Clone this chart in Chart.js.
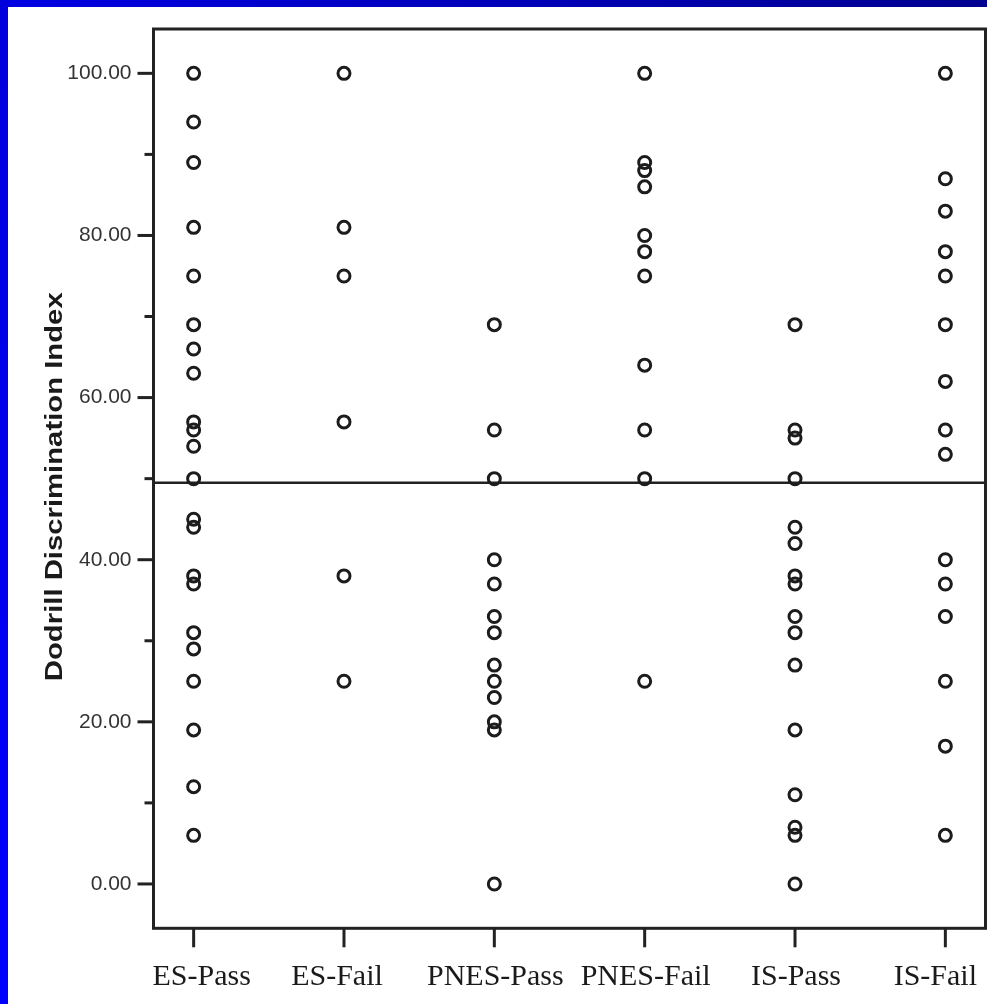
<!DOCTYPE html>
<html>
<head>
<meta charset="utf-8">
<script src="https://cdn.jsdelivr.net/npm/chart.js@4"></script>
<style>
  html, body { margin: 0; padding: 0; background: #fff; overflow: hidden; }
  canvas { display: block; }
</style>
</head>
<body>
<canvas id="chart" width="987" height="1004"></canvas>
<script>
const categories = ['ES-Pass', 'ES-Fail', 'PNES-Pass', 'PNES-Fail', 'IS-Pass', 'IS-Fail'];

const esPass   = [100, 94, 89, 81, 75, 69, 66, 63, 57, 56, 54, 50, 45, 44, 38, 37, 31, 29, 25, 19, 12, 6];
const esFail   = [100, 81, 75, 57, 38, 25];
const pnesPass = [69, 56, 50, 40, 37, 33, 31, 27, 25, 23, 20, 19, 0];
const pnesFail = [100, 89, 88, 86, 80, 78, 75, 64, 56, 50, 25];
const isPass   = [69, 56, 55, 50, 44, 42, 38, 37, 33, 31, 27, 19, 11, 7, 6, 0];
const isFail   = [100, 87, 83, 78, 75, 69, 62, 56, 53, 40, 37, 33, 25, 17, 6];

const cutoff = 49.5;
const yTicks = [0, 10, 20, 30, 40, 50, 60, 70, 80, 90, 100];
const yTitle = 'Dodrill Discrimination Index';

const xMin = -0.267, xMax = 5.267;
const yMin = -5.47, yMax = 105.47;

// the category labels in the original sit a little off their tick marks
const labelNudge = [8, -7, 1, 1, 1, -10];

const groups = [esPass, esFail, pnesPass, pnesFail, isPass, isFail];
const points = groups.flatMap((vals, i) => vals.map(v => ({ x: i, y: v })));

// white page with the blue slide edge on the left and top
const slideBack = {
    id: 'slideBack',
    beforeDraw(chart) {
        const { ctx, width, height } = chart;
        ctx.save();
        ctx.fillStyle = '#fff';
        ctx.fillRect(0, 0, width, height);
        let g = ctx.createLinearGradient(0, 0, width, 0);
        g.addColorStop(0, '#0000e4');
        g.addColorStop(1, '#000090');
        ctx.fillStyle = g;
        ctx.fillRect(0, 0, width, 7);
        g = ctx.createLinearGradient(0, 0, 0, height);
        g.addColorStop(0, '#0000dc');
        g.addColorStop(1, '#0000ff');
        ctx.fillStyle = g;
        ctx.fillRect(0, 0, 8, height);
        ctx.restore();
    }
};

// box, tick marks, category labels and the stretched axis title
const frame = {
    id: 'frame',
    afterDraw(chart) {
        const { ctx, chartArea: a, scales: { x, y } } = chart;
        ctx.save();
        ctx.strokeStyle = '#222';
        ctx.lineWidth = 3;
        ctx.strokeRect(a.left, a.top, a.right - a.left, a.bottom - a.top);

        yTicks.forEach(v => {
            const py = y.getPixelForValue(v);
            const len = v % 20 === 0 ? 16 : 9;
            ctx.beginPath();
            ctx.moveTo(a.left - len, py);
            ctx.lineTo(a.left, py);
            ctx.stroke();
        });

        ctx.font = '30px "Liberation Serif", "Times New Roman", serif';
        ctx.fillStyle = '#1a1a1a';
        ctx.textAlign = 'center';
        ctx.textBaseline = 'alphabetic';
        categories.forEach((c, i) => {
            const px = x.getPixelForValue(i);
            ctx.beginPath();
            ctx.moveTo(px, a.bottom);
            ctx.lineTo(px, a.bottom + 19);
            ctx.stroke();
            ctx.fillText(c, px + labelNudge[i], a.bottom + 57);
        });

        ctx.translate(62, (y.getPixelForValue(50) + y.getPixelForValue(48)) / 2);
        ctx.rotate(-Math.PI / 2);
        ctx.scale(1.22, 1);
        ctx.font = 'bold 24px "Liberation Sans", Arial, sans-serif';
        ctx.fillText(yTitle, 0, 0);
        ctx.restore();
    }
};

// keep the plot box where the original has it, labels may overhang
const noOverhang = s => {
    s.paddingLeft = 0;
    s.paddingRight = 0;
    s.paddingTop = 0;
    s.paddingBottom = 0;
};

new Chart(document.getElementById('chart'), {
    type: 'scatter',
    data: {
        datasets: [
            {
                data: points,
                pointStyle: 'circle',
                pointRadius: 6,
                pointBorderWidth: 3,
                borderColor: '#1c1c1c',
                backgroundColor: 'rgba(0,0,0,0)'
            },
            {
                type: 'line',
                data: [{ x: xMin, y: cutoff }, { x: xMax, y: cutoff }],
                borderColor: '#222',
                borderWidth: 2.5,
                pointRadius: 0
            }
        ]
    },
    options: {
        responsive: false,
        animation: false,
        layout: { autoPadding: false, padding: { top: 29, right: 1.5, left: 0, bottom: 0 } },
        plugins: { legend: { display: false }, tooltip: { enabled: false } },
        scales: {
            x: {
                type: 'linear',
                min: xMin,
                max: xMax,
                afterBuildTicks: s => { s.ticks = categories.map((c, i) => ({ value: i })); },
                afterFit: s => { s.height = 75.7; noOverhang(s); },
                ticks: { display: false },
                grid: { display: false, drawTicks: false },
                border: { display: false }
            },
            y: {
                min: yMin,
                max: yMax,
                afterBuildTicks: s => { s.ticks = yTicks.map(v => ({ value: v })); },
                afterFit: s => { s.width = 153.5; noOverhang(s); },
                ticks: {
                    callback: v => v % 20 === 0 ? v.toFixed(2) : '',
                    font: { family: '"Liberation Sans", Arial, sans-serif', size: 21 },
                    color: '#333',
                    padding: 22,
                    autoSkip: false
                },
                grid: { display: false, drawTicks: false },
                border: { display: false }
            }
        }
    },
    plugins: [slideBack, frame]
});
</script>
</body>
</html>
